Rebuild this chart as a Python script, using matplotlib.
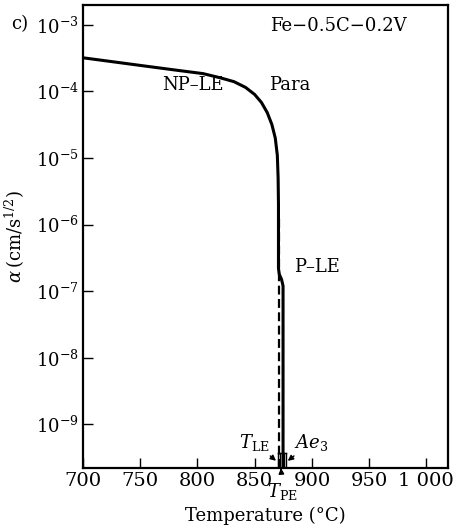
import numpy as np
import matplotlib
matplotlib.use("Agg")
import matplotlib.pyplot as plt
from matplotlib.ticker import FixedLocator, FuncFormatter, NullLocator
import matplotlib.transforms as mtransforms

plt.rcParams['font.family'] = ['DejaVu Serif']
plt.rcParams['mathtext.fontset'] = 'dejavuserif'

# NP-LE / Para curve (temperature in C, alpha in cm/s^1/2)
temp_para = [700, 758.6, 784.8, 805, 820, 832, 842, 850, 856, 861, 865, 868, 869.8, 870.5, 870.8,
             870.8, 871.5, 873.5, 874.8, 874.8]
alpha_para = [3.2e-4, 2.35e-4, 2.05e-4, 1.85e-4, 1.6e-4, 1.4e-4, 1.15e-4, 9.0e-5, 6.8e-5, 4.8e-5,
              3.2e-5, 2.0e-5, 1.1e-5, 5.0e-6, 2.0e-6,
              2.2e-7, 1.8e-7, 1.5e-7, 1.2e-7, 2.2e-10]

# P-LE dashed branch
temp_ple = [871.2, 871.2]
alpha_ple = [1.2e-6, 2.2e-10]

# markers near the axis (T_LE, T_PE, Ae3)
mark_temps = [870.0, 872.3, 875.4, 877.0]

x_ticks = [700, 750, 800, 850, 900, 950, 1000]
x_labels = ['700', '750', '800', '850', '900', '950', '1 000']
y_exps = [-3, -4, -5, -6, -7, -8, -9]

fig = plt.figure(figsize=(4.61, 5.32), dpi=100)
ax = fig.add_axes([0.180, 0.120, 0.792, 0.871])

ax.plot(temp_para, alpha_para, color='black', lw=2.2, solid_capstyle='butt')
ax.plot(temp_ple, alpha_ple, color='black', lw=1.6, ls=(0, (4, 2)))

trans = mtransforms.blended_transform_factory(ax.transData, ax.transAxes)
for t in mark_temps:
    ax.plot([t, t], [0, 0.032], color='black', lw=1.0, transform=trans)
ax.plot([mark_temps[0], mark_temps[-1]], [0.032, 0.032], color='black', lw=1.0, transform=trans)

ax.set_yscale('log')
ax.set_xlim(700, 1019)
ax.set_ylim(2.2e-10, 2e-3)

ax.xaxis.set_major_locator(FixedLocator(x_ticks))
ax.set_xticklabels(x_labels)
ax.yaxis.set_major_locator(FixedLocator([10.0 ** e for e in y_exps]))
ax.yaxis.set_minor_locator(NullLocator())
ax.yaxis.set_major_formatter(FuncFormatter(lambda v, p: r'$10^{%d}$' % round(np.log10(v))))

ax.tick_params(axis='both', direction='in', length=7, width=1.0, labelsize=13)
ax.tick_params(axis='x', pad=3, labelsize=14)
ax.tick_params(axis='y', pad=3)
for s in ax.spines.values():
    s.set_linewidth(1.6)

ax.set_xlabel('Temperature (°C)', fontsize=13, labelpad=12)
ax.set_ylabel(r'$\alpha\,$(cm/s$^{1/2}$)', fontsize=13, labelpad=6)

fig.text(0.025, 0.955, 'c)', fontsize=13, va='center')
ax.text(0.70, 0.955, 'Fe\u22120.5C\u22120.2V', transform=ax.transAxes, fontsize=13, ha='center', va='center')
ax.text(0.30, 0.826, 'NP\u2013LE', transform=ax.transAxes, fontsize=13, ha='center', va='center')
ax.text(0.565, 0.826, 'Para', transform=ax.transAxes, fontsize=13, ha='center', va='center')
ax.text(0.64, 0.435, 'P\u2013LE', transform=ax.transAxes, fontsize=13, ha='center', va='center')

ax.annotate(r'$T_{\mathrm{LE}}$', xy=(870.5, 0.012), xycoords=trans,
            xytext=(850, 0.055), textcoords=trans, fontsize=13, ha='center', va='center',
            arrowprops=dict(arrowstyle='-|>', color='black', lw=1.0, mutation_scale=8, shrinkA=8))
ax.annotate(r'$Ae_3$', xy=(877, 0.012), xycoords=trans,
            xytext=(899, 0.055), textcoords=trans, fontsize=13, ha='center', va='center',
            arrowprops=dict(arrowstyle='-|>', color='black', lw=1.0, mutation_scale=8, shrinkA=8))
ax.annotate(r'$T_{\mathrm{PE}}$', xy=(873, 0.0), xycoords=trans,
            xytext=(874.5, -0.05), textcoords=trans, fontsize=13, ha='center', va='center',
            arrowprops=dict(arrowstyle='-|>', color='black', lw=1.0, mutation_scale=8, shrinkA=6))

fig.savefig('out.png', dpi=100)
